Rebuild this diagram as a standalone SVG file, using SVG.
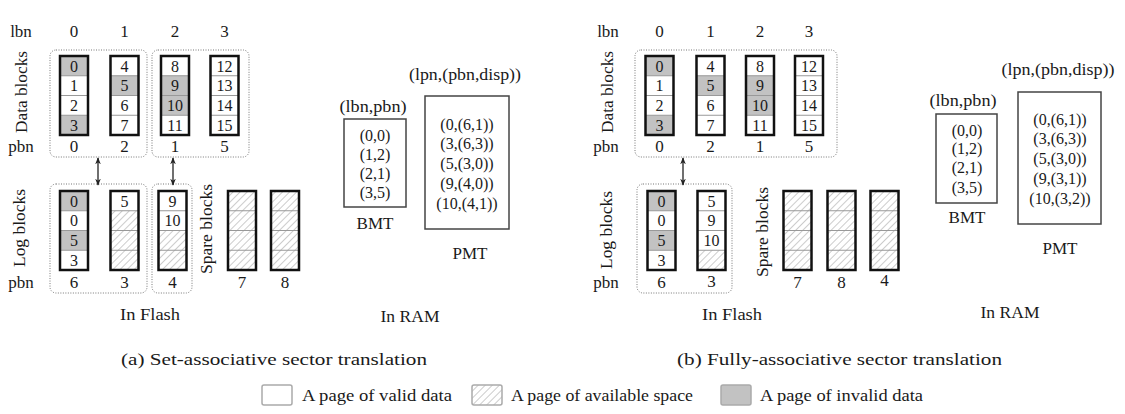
<svg xmlns="http://www.w3.org/2000/svg" width="1125" height="414" viewBox="0 0 1125 414" font-family="'Liberation Serif', 'Times New Roman', serif">
<defs>
<style>
text{font-family:"Liberation Serif","Times New Roman",serif;fill:#1a1a1a}
.c{font-size:16px;text-anchor:middle}
.l{font-size:17px;text-anchor:middle}
.cap{font-size:17px}
.lg{font-size:16px}
.bg{fill:#fff}
.blk{fill:none;stroke:#111;stroke-width:2.5}
.sep{stroke:#999;stroke-width:1}
.inv{fill:#c2c2c2}
.hat{fill:url(#hatch)}
.grp{fill:none;stroke:#777;stroke-width:1;stroke-dasharray:1 1.5}
.tbl{fill:#fff;stroke:#444;stroke-width:1.5}
.lgb{stroke:#aaa;stroke-width:1.5}
.arr{stroke:#222;stroke-width:1.3;fill:none;marker-start:url(#ah);marker-end:url(#ah)}
</style>
<pattern id="hatch" patternUnits="userSpaceOnUse" width="5" height="5" patternTransform="rotate(45)">
<rect width="5" height="5" fill="#fff"/>
<line x1="0" y1="0" x2="0" y2="5" stroke="#999" stroke-width="1"/>
</pattern>
<marker id="ah" viewBox="0 0 10 10" refX="9" refY="5" markerWidth="7" markerHeight="7" markerUnits="userSpaceOnUse" orient="auto-start-reverse">
<path d="M0,1 L10,5 L0,9 L3,5 z" fill="#222"/>
</marker>
</defs>
<rect width="1125" height="414" fill="#fff"/>

<!-- ===== Panel (a) ===== -->
<g id="a-labels">
<text class="l" x="21" y="37">lbn</text>
<text class="l" x="74" y="37">0</text>
<text class="l" x="124.5" y="37">1</text>
<text class="l" x="175" y="37">2</text>
<text class="l" x="224.5" y="37">3</text>
<text class="l" x="21" y="152">pbn</text>
<text class="l" x="74" y="152">0</text>
<text class="l" x="124.5" y="152">2</text>
<text class="l" x="175" y="152">1</text>
<text class="l" x="224.5" y="152">5</text>
<text class="l" x="21" y="288">pbn</text>
<text class="l" x="74" y="288">6</text>
<text class="l" x="124.5" y="288">3</text>
<text class="l" x="172.5" y="288">4</text>
<text class="l" x="242" y="288">7</text>
<text class="l" x="285" y="288">8</text>
<text class="l" transform="translate(22,92) rotate(-90)" x="0" y="5" textLength="82" lengthAdjust="spacingAndGlyphs">Data blocks</text>
<text class="l" transform="translate(20,228) rotate(-90)" x="0" y="5" textLength="78" lengthAdjust="spacingAndGlyphs">Log blocks</text>
<text class="l" transform="translate(207,229) rotate(-90)" x="0" y="5" textLength="90" lengthAdjust="spacingAndGlyphs">Spare blocks</text>
<text class="l" x="150" y="320" textLength="60" lengthAdjust="spacingAndGlyphs">In Flash</text>
<text class="l" x="410" y="322" textLength="59" lengthAdjust="spacingAndGlyphs">In RAM</text>
</g>

<g id="a-groups">
<rect class="grp" x="50" y="50" width="97" height="107" rx="6"/>
<rect class="grp" x="152" y="50" width="97" height="107" rx="6"/>
<rect class="grp" x="50" y="184" width="97" height="109" rx="6"/>
<rect class="grp" x="152" y="184" width="40" height="109" rx="6"/>
</g>

<g id="a-data-lbn0">
<rect class="bg" x="60" y="56" width="28" height="79"/>
<rect class="inv" x="60" y="56" width="28" height="19.75"/>
<rect class="inv" x="60" y="115.25" width="28" height="19.75"/>
<path class="sep" d="M60,75.75H88M60,95.5H88M60,115.25H88"/>
<rect class="blk" x="60" y="56" width="28" height="79"/>
<text class="c" x="74" y="71.5">0</text><text class="c" x="74" y="91">1</text><text class="c" x="74" y="111">2</text><text class="c" x="74" y="130.5">3</text>
</g>
<g id="a-data-lbn1">
<rect class="bg" x="110.5" y="56" width="28" height="79"/>
<rect class="inv" x="110.5" y="75.75" width="28" height="19.75"/>
<path class="sep" d="M110.5,75.75H138.5M110.5,95.5H138.5M110.5,115.25H138.5"/>
<rect class="blk" x="110.5" y="56" width="28" height="79"/>
<text class="c" x="124.5" y="71.5">4</text><text class="c" x="124.5" y="91">5</text><text class="c" x="124.5" y="111">6</text><text class="c" x="124.5" y="130.5">7</text>
</g>
<g id="a-data-lbn2">
<rect class="bg" x="161" y="56" width="28" height="79"/>
<rect class="inv" x="161" y="75.75" width="28" height="39.5"/>
<path class="sep" d="M161,75.75H189M161,95.5H189M161,115.25H189"/>
<rect class="blk" x="161" y="56" width="28" height="79"/>
<text class="c" x="175" y="71.5">8</text><text class="c" x="175" y="91">9</text><text class="c" x="175" y="111">10</text><text class="c" x="175" y="130.5">11</text>
</g>
<g id="a-data-lbn3">
<rect class="bg" x="210.5" y="56" width="28" height="79"/>
<path class="sep" d="M210.5,75.75H238.5M210.5,95.5H238.5M210.5,115.25H238.5"/>
<rect class="blk" x="210.5" y="56" width="28" height="79"/>
<text class="c" x="224.5" y="71.5">12</text><text class="c" x="224.5" y="91">13</text><text class="c" x="224.5" y="111">14</text><text class="c" x="224.5" y="130.5">15</text>
</g>

<g id="a-log-pbn6">
<rect class="bg" x="60" y="191" width="28" height="79"/>
<rect class="inv" x="60" y="191" width="28" height="19.75"/>
<rect class="inv" x="60" y="230.5" width="28" height="19.75"/>
<path class="sep" d="M60,210.75H88M60,230.5H88M60,250.25H88"/>
<rect class="blk" x="60" y="191" width="28" height="79"/>
<text class="c" x="74" y="206.5">0</text><text class="c" x="74" y="226">0</text><text class="c" x="74" y="246">5</text><text class="c" x="74" y="265.5">3</text>
</g>
<g id="a-log-pbn3">
<rect class="bg" x="110.5" y="191" width="28" height="79"/>
<rect class="hat" x="110.5" y="210.75" width="28" height="59.25"/>
<path class="sep" d="M110.5,210.75H138.5M110.5,230.5H138.5M110.5,250.25H138.5"/>
<rect class="blk" x="110.5" y="191" width="28" height="79"/>
<text class="c" x="124.5" y="206.5">5</text>
</g>
<g id="a-log-pbn4">
<rect class="bg" x="158.5" y="191" width="28" height="79"/>
<rect class="hat" x="158.5" y="230.5" width="28" height="39.5"/>
<path class="sep" d="M158.5,210.75H186.5M158.5,230.5H186.5M158.5,250.25H186.5"/>
<rect class="blk" x="158.5" y="191" width="28" height="79"/>
<text class="c" x="172.5" y="206.5">9</text><text class="c" x="172.5" y="226">10</text>
</g>
<g id="a-spare-pbn7">
<rect class="hat" x="228" y="191" width="28" height="79"/>
<path class="sep" d="M228,210.75H256M228,230.5H256M228,250.25H256"/>
<rect class="blk" x="228" y="191" width="28" height="79"/>
</g>
<g id="a-spare-pbn8">
<rect class="hat" x="271" y="191" width="28" height="79"/>
<path class="sep" d="M271,210.75H299M271,230.5H299M271,250.25H299"/>
<rect class="blk" x="271" y="191" width="28" height="79"/>
</g>

<g id="a-bmt">
<text class="l" x="373" y="112" textLength="67" lengthAdjust="spacingAndGlyphs">(lbn,pbn)</text>
<rect class="tbl" x="344" y="119" width="62" height="88"/>
<text class="c" x="375" y="140.5">(0,0)</text>
<text class="c" x="375" y="159.5">(1,2)</text>
<text class="c" x="375" y="178.5">(2,1)</text>
<text class="c" x="375" y="198">(3,5)</text>
<text class="l" x="375" y="228.5">BMT</text>
</g>
<g id="a-pmt">
<text class="l" x="465" y="80" textLength="112" lengthAdjust="spacingAndGlyphs">(lpn,(pbn,disp))</text>
<rect class="tbl" x="425" y="96" width="84" height="133"/>
<text class="c" x="467" y="129.5">(0,(6,1))</text>
<text class="c" x="467" y="148.5">(3,(6,3))</text>
<text class="c" x="467" y="168.5">(5,(3,0))</text>
<text class="c" x="467" y="188.5">(9,(4,0))</text>
<text class="c" x="467" y="208.5">(10,(4,1))</text>
<text class="l" x="470" y="258.5">PMT</text>
</g>

<!-- ===== Panel (b) ===== -->
<g id="b-labels">
<text class="l" x="608" y="37">lbn</text>
<text class="l" x="659.5" y="37">0</text>
<text class="l" x="710.5" y="37">1</text>
<text class="l" x="760" y="37">2</text>
<text class="l" x="809" y="37">3</text>
<text class="l" x="606" y="152">pbn</text>
<text class="l" x="659.5" y="152">0</text>
<text class="l" x="710.5" y="152">2</text>
<text class="l" x="760" y="152">1</text>
<text class="l" x="809" y="152">5</text>
<text class="l" x="606" y="288">pbn</text>
<text class="l" x="661.5" y="288">6</text>
<text class="l" x="711.5" y="287">3</text>
<text class="l" x="797.5" y="288">7</text>
<text class="l" x="841.5" y="288">8</text>
<text class="l" x="884.5" y="286">4</text>
<text class="l" transform="translate(608,92) rotate(-90)" x="0" y="5" textLength="82" lengthAdjust="spacingAndGlyphs">Data blocks</text>
<text class="l" transform="translate(607,230) rotate(-90)" x="0" y="5" textLength="78" lengthAdjust="spacingAndGlyphs">Log blocks</text>
<text class="l" transform="translate(763,232) rotate(-90)" x="0" y="5" textLength="90" lengthAdjust="spacingAndGlyphs">Spare blocks</text>
<text class="l" x="732" y="320" textLength="60" lengthAdjust="spacingAndGlyphs">In Flash</text>
<text class="l" x="1010" y="318" textLength="59" lengthAdjust="spacingAndGlyphs">In RAM</text>
</g>

<g id="b-groups">
<rect class="grp" x="635" y="50" width="202" height="107" rx="6"/>
<rect class="grp" x="637" y="184" width="95" height="109" rx="6"/>
</g>

<g id="b-data-lbn0">
<rect class="bg" x="645.5" y="56" width="28" height="79"/>
<rect class="inv" x="645.5" y="56" width="28" height="19.75"/>
<rect class="inv" x="645.5" y="115.25" width="28" height="19.75"/>
<path class="sep" d="M645.5,75.75H673.5M645.5,95.5H673.5M645.5,115.25H673.5"/>
<rect class="blk" x="645.5" y="56" width="28" height="79"/>
<text class="c" x="659.5" y="71.5">0</text><text class="c" x="659.5" y="91">1</text><text class="c" x="659.5" y="111">2</text><text class="c" x="659.5" y="130.5">3</text>
</g>
<g id="b-data-lbn1">
<rect class="bg" x="696.5" y="56" width="28" height="79"/>
<rect class="inv" x="696.5" y="75.75" width="28" height="19.75"/>
<path class="sep" d="M696.5,75.75H724.5M696.5,95.5H724.5M696.5,115.25H724.5"/>
<rect class="blk" x="696.5" y="56" width="28" height="79"/>
<text class="c" x="710.5" y="71.5">4</text><text class="c" x="710.5" y="91">5</text><text class="c" x="710.5" y="111">6</text><text class="c" x="710.5" y="130.5">7</text>
</g>
<g id="b-data-lbn2">
<rect class="bg" x="746" y="56" width="28" height="79"/>
<rect class="inv" x="746" y="75.75" width="28" height="39.5"/>
<path class="sep" d="M746,75.75H774M746,95.5H774M746,115.25H774"/>
<rect class="blk" x="746" y="56" width="28" height="79"/>
<text class="c" x="760" y="71.5">8</text><text class="c" x="760" y="91">9</text><text class="c" x="760" y="111">10</text><text class="c" x="760" y="130.5">11</text>
</g>
<g id="b-data-lbn3">
<rect class="bg" x="795" y="56" width="28" height="79"/>
<path class="sep" d="M795,75.75H823M795,95.5H823M795,115.25H823"/>
<rect class="blk" x="795" y="56" width="28" height="79"/>
<text class="c" x="809" y="71.5">12</text><text class="c" x="809" y="91">13</text><text class="c" x="809" y="111">14</text><text class="c" x="809" y="130.5">15</text>
</g>

<g id="b-log-pbn6">
<rect class="bg" x="647.5" y="191" width="28" height="79"/>
<rect class="inv" x="647.5" y="191" width="28" height="19.75"/>
<rect class="inv" x="647.5" y="230.5" width="28" height="19.75"/>
<path class="sep" d="M647.5,210.75H675.5M647.5,230.5H675.5M647.5,250.25H675.5"/>
<rect class="blk" x="647.5" y="191" width="28" height="79"/>
<text class="c" x="661.5" y="206.5">0</text><text class="c" x="661.5" y="226">0</text><text class="c" x="661.5" y="246">5</text><text class="c" x="661.5" y="265.5">3</text>
</g>
<g id="b-log-pbn3">
<rect class="bg" x="697.5" y="191" width="28" height="79"/>
<rect class="hat" x="697.5" y="250.25" width="28" height="19.75"/>
<path class="sep" d="M697.5,210.75H725.5M697.5,230.5H725.5M697.5,250.25H725.5"/>
<rect class="blk" x="697.5" y="191" width="28" height="79"/>
<text class="c" x="711.5" y="206.5">5</text><text class="c" x="711.5" y="226">9</text><text class="c" x="711.5" y="246">10</text>
</g>
<g id="b-spare-pbn7">
<rect class="hat" x="783.5" y="191" width="28" height="79"/>
<path class="sep" d="M783.5,210.75H811.5M783.5,230.5H811.5M783.5,250.25H811.5"/>
<rect class="blk" x="783.5" y="191" width="28" height="79"/>
</g>
<g id="b-spare-pbn8">
<rect class="hat" x="827.5" y="191" width="28" height="79"/>
<path class="sep" d="M827.5,210.75H855.5M827.5,230.5H855.5M827.5,250.25H855.5"/>
<rect class="blk" x="827.5" y="191" width="28" height="79"/>
</g>
<g id="b-spare-pbn4">
<rect class="hat" x="870.5" y="191" width="28" height="79"/>
<path class="sep" d="M870.5,210.75H898.5M870.5,230.5H898.5M870.5,250.25H898.5"/>
<rect class="blk" x="870.5" y="191" width="28" height="79"/>
</g>

<g id="b-bmt">
<text class="l" x="963" y="106" textLength="67" lengthAdjust="spacingAndGlyphs">(lbn,pbn)</text>
<rect class="tbl" x="936" y="114" width="61" height="89"/>
<text class="c" x="967" y="135.5">(0,0)</text>
<text class="c" x="967" y="153.5">(1,2)</text>
<text class="c" x="967" y="172.5">(2,1)</text>
<text class="c" x="967" y="192.5">(3,5)</text>
<text class="l" x="967" y="222.5">BMT</text>
</g>
<g id="b-pmt">
<text class="l" x="1058" y="75" textLength="113" lengthAdjust="spacingAndGlyphs">(lpn,(pbn,disp))</text>
<rect class="tbl" x="1018" y="92" width="83" height="132"/>
<text class="c" x="1060" y="124.5">(0,(6,1))</text>
<text class="c" x="1060" y="143.5">(3,(6,3))</text>
<text class="c" x="1060" y="163.5">(5,(3,0))</text>
<text class="c" x="1060" y="183.5">(9,(3,1))</text>
<text class="c" x="1060" y="203.5">(10,(3,2))</text>
<text class="l" x="1060" y="253.5">PMT</text>
</g>

<g id="connectors">
<line class="arr" x1="98" y1="158" x2="98" y2="185"/>
<line class="arr" x1="173" y1="158" x2="173" y2="185"/>
<line class="arr" x1="683" y1="158" x2="683" y2="185"/>
</g>

<g id="captions">
<text class="cap" x="121" y="365" textLength="306" lengthAdjust="spacingAndGlyphs">(a) Set-associative sector translation</text>
<text class="cap" x="677" y="365" textLength="325" lengthAdjust="spacingAndGlyphs">(b) Fully-associative sector translation</text>
</g>

<g id="legend">
<rect class="lgb" x="262" y="385" width="30" height="20" rx="2" fill="#fff"/>
<text class="lg" x="302" y="401" textLength="150" lengthAdjust="spacingAndGlyphs">A page of valid data</text>
<rect class="lgb" x="472" y="385" width="30" height="20" rx="2" fill="url(#hatch)"/>
<text class="lg" x="511" y="401" textLength="182" lengthAdjust="spacingAndGlyphs">A page of available space</text>
<rect class="lgb" x="721" y="385" width="30" height="20" rx="2" fill="#c2c2c2"/>
<text class="lg" x="760" y="401" textLength="163" lengthAdjust="spacingAndGlyphs">A page of invalid data</text>
</g>
</svg>
